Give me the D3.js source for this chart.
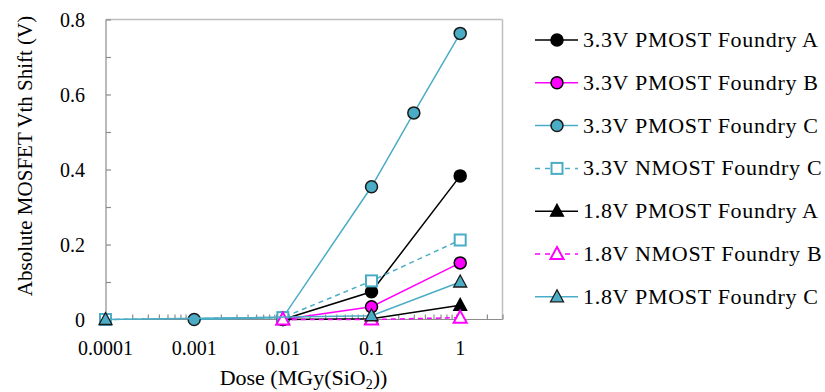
<!DOCTYPE html>
<html>
<head>
<meta charset="utf-8">
<script src="https://cdn.jsdelivr.net/npm/d3@7"></script>
<style>
  body { margin: 0; background: #fff; }
  svg text { font-family: 'Liberation Serif' !important; }
</style>
</head>
<body>
<script>
// doses (MGy(SiO2)) per series
var dose33A = [0.01, 0.1, 1];
var dose33B = [0.01, 0.1, 1];
var dose33C = [0.001, 0.01, 0.1, 0.3, 1];
var doseN33C = [0.0001, 0.01, 0.1, 1];
var dose18A = [0.01, 0.1, 1];
var doseN18B = [0.01, 0.1, 1];
var dose18C = [0.0001, 0.1, 1];

// absolute Vth shift (V)
var pmos33A = [0, 0.074, 0.383];
var pmos33B = [0, 0.034, 0.151];
var pmos33C = [0, 0.005, 0.354, 0.551, 0.763];
var nmos33C = [0, 0.005, 0.103, 0.212];
var pmos18A = [0, 0.002, 0.038];
var nmos18B = [0, 0, 0.005];
var pmos18C = [0, 0.01, 0.1];

var xTicks = [0.0001, 0.001, 0.01, 0.1, 1];
var yTicks = [0, 0.2, 0.4, 0.6, 0.8];

var teal = '#4bacc6', mag = '#ff00ff';
var FONT = "'Liberation Serif'";

var series = [
  {name: '3.3V PMOST Foundry A', x: dose33A, y: pmos33A, color: '#000', dash: null, sym: 'circle', fill: '#000', stroke: '#000'},
  {name: '3.3V PMOST Foundry B', x: dose33B, y: pmos33B, color: mag, dash: null, sym: 'circle', fill: mag, stroke: '#000'},
  {name: '3.3V PMOST Foundry C', x: dose33C, y: pmos33C, color: teal, dash: null, sym: 'circle', fill: teal, stroke: '#1a1a1a'},
  {name: '3.3V NMOST Foundry C', x: doseN33C, y: nmos33C, color: teal, dash: '5,4', sym: 'square', fill: '#fff', stroke: teal},
  {name: '1.8V PMOST Foundry A', x: dose18A, y: pmos18A, color: '#000', dash: null, sym: 'triangle', fill: '#000', stroke: '#000'},
  {name: '1.8V NMOST Foundry B', x: doseN18B, y: nmos18B, color: mag, dash: '5,4', sym: 'triangle', fill: '#fff', stroke: mag},
  {name: '1.8V PMOST Foundry C', x: dose18C, y: pmos18C, color: teal, dash: null, sym: 'triangle', fill: teal, stroke: '#1a1a1a'}
];

var W = 825, H = 392;
var L = 106, T = 19.5, R = 502.5, B = 319.5;

var svg = d3.select('body').append('svg')
    .attr('width', W)
    .attr('height', H);

var x = d3.scaleLog().domain([0.0001, 3]).range([L - 0.5, R]);
var y = d3.scaleLinear().domain([0, 0.8]).range([B, T]);

function txt(sel, size) {
  return sel.attr('font-family', FONT)
    .style('font-family', FONT, 'important')
    .attr('font-size', size);
}

// frame: gray top/right
svg.append('line').attr('x1', L).attr('x2', R).attr('y1', T).attr('y2', T)
    .attr('stroke', '#bfbfbf').attr('stroke-width', 1.5);
svg.append('line').attr('x1', R).attr('x2', R).attr('y1', T).attr('y2', B)
    .attr('stroke', '#bfbfbf').attr('stroke-width', 1.5);

// y axis, ticks inside
var yAxis = d3.axisRight(y).tickValues(d3.range(0, 0.81, 0.1)).tickSize(5).tickFormat('');
var gy = svg.append('g').attr('transform', 'translate(' + L + ',0)').call(yAxis);
gy.selectAll('path,line').attr('stroke', '#8c8c8c').attr('stroke-width', 1.2);
gy.select('.domain').attr('d', 'M0,' + T + 'V' + B);

txt(svg.selectAll('.ylab').data(yTicks).enter().append('text'), 20)
    .attr('class', 'ylab')
    .attr('x', L - 21)
    .attr('y', function(d) { return y(d) + 7; })
    .attr('text-anchor', 'end')
    .text(function(d) { return d === 0 ? '0' : d3.format('.1f')(d); });

// x axis, minor ticks pointing up
var minor = [];
xTicks.forEach(function(p) {
  for (var k = 1; k <= 9; k++) { if (p * k <= 3) minor.push(p * k); }
});
var xAxis = d3.axisTop(x).tickValues(minor).tickSize(5).tickFormat('');
var gx = svg.append('g').attr('transform', 'translate(0,' + B + ')').call(xAxis);
gx.selectAll('path,line').attr('stroke', '#8c8c8c').attr('stroke-width', 1.2);
gx.select('.domain').attr('d', 'M' + L + ',0H' + R);

txt(svg.selectAll('.xlab').data(xTicks).enter().append('text'), 20)
    .attr('class', 'xlab')
    .attr('x', function(d) { return x(d); })
    .attr('y', 355)
    .attr('text-anchor', 'middle')
    .text(function(d) { return String(d); });

// axis titles
txt(svg.append('text'), 21)
    .attr('transform', 'translate(32,156) rotate(-90)')
    .attr('text-anchor', 'middle')
    .text('Absolute MOSFET Vth Shift (V)');

var xt = txt(svg.append('text'), 22)
    .attr('x', 303.5)
    .attr('y', 385)
    .attr('text-anchor', 'middle');
xt.append('tspan').text('Dose (MGy(SiO');
xt.append('tspan').attr('dy', 4).attr('font-size', 14).text('2');
xt.append('tspan').attr('dy', -4).text('))');

// marker drawing
function marker(g, s, cx, cy) {
  if (s.sym === 'circle') {
    g.append('circle').attr('cx', cx).attr('cy', cy).attr('r', 6)
      .attr('fill', s.fill).attr('stroke', s.stroke).attr('stroke-width', 1.5);
  } else if (s.sym === 'square') {
    g.append('rect').attr('x', cx - 5.5).attr('y', cy - 5.5).attr('width', 11).attr('height', 11)
      .attr('fill', s.fill).attr('stroke', s.stroke).attr('stroke-width', 2);
  } else {
    g.append('path')
      .attr('d', 'M' + cx + ',' + (cy - 7) + 'L' + (cx + 6.5) + ',' + (cy + 5) + 'L' + (cx - 6.5) + ',' + (cy + 5) + 'Z')
      .attr('fill', s.fill).attr('stroke', s.stroke).attr('stroke-width', s.fill === '#fff' ? 2 : 1.3);
  }
}

var line = d3.line()
    .x(function(d) { return x(d[0]); })
    .y(function(d) { return y(d[1]); });

// draw in series order, later ones on top
var plot = svg.append('g');
series.forEach(function(s) {
  var pts = s.x.map(function(v, i) { return [v, s.y[i]]; });
  var g = plot.append('g');
  g.append('path').datum(pts)
      .attr('d', line)
      .attr('fill', 'none')
      .attr('stroke', s.color)
      .attr('stroke-width', 1.5)
      .attr('stroke-dasharray', s.dash);
  pts.forEach(function(p) { marker(g, s, x(p[0]), y(p[1])); });
});

// legend
var lg = svg.append('g');
series.forEach(function(s, i) {
  var yy = 40 + i * 42.8;
  lg.append('line').attr('x1', 535).attr('x2', 578).attr('y1', yy).attr('y2', yy)
    .attr('stroke', s.color).attr('stroke-width', 1.5).attr('stroke-dasharray', s.dash ? '5,5' : null);
  marker(lg, s, 557, yy);
  txt(lg.append('text'), 22)
    .attr('x', 583).attr('y', yy + 7)
    .attr('letter-spacing', 0.7)
    .text(s.name);
});
</script>
</body>
</html>
